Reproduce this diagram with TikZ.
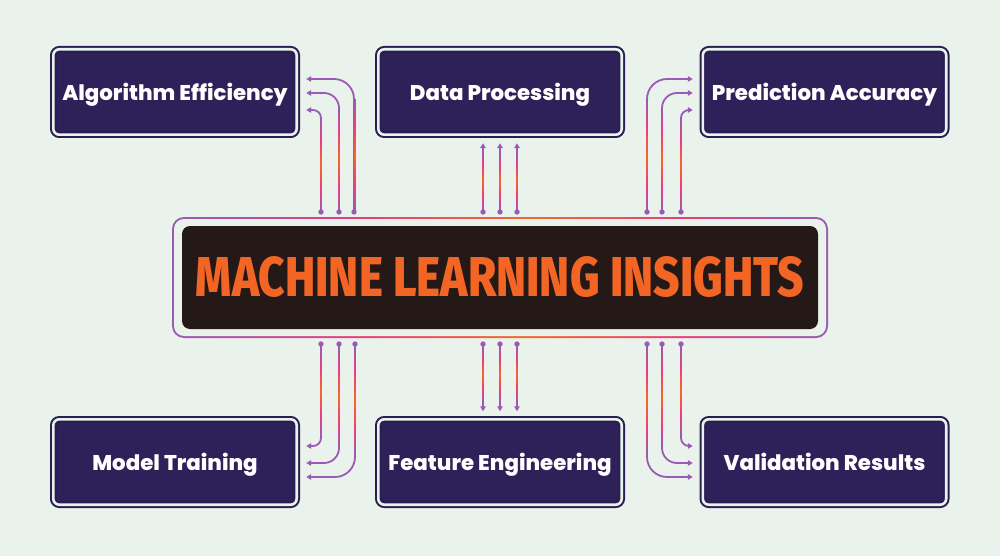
\documentclass[tikz,border=0pt]{standalone}
\usepackage{fontspec}
\setmainfont{Poppins}[BoldFont={Poppins ExtraBold}]
\newfontfamily\titlefont{Fira Sans ExtraBold}
\usetikzlibrary{arrows.meta,calc}
\definecolor{bg}{HTML}{EAF3EB}
\definecolor{boxfill}{HTML}{2E2159}
\definecolor{boxline}{HTML}{2A1D52}
\definecolor{core}{HTML}{241917}
\definecolor{titleor}{HTML}{F26524}
\definecolor{wpur}{HTML}{9B5AB5}
\definecolor{wpink}{HTML}{EE3D7D}
\definecolor{worg}{HTML}{F26A2A}
\pgfdeclareverticalshading{wire}{100bp}{color(0bp)=(wpur); color(25bp)=(wpur); color(38bp)=(wpink); color(50bp)=(worg); color(62bp)=(wpink); color(75bp)=(wpur); color(100bp)=(wpur)}
\pgfdeclarehorizontalshading{ringshade}{100bp}{color(0bp)=(wpur); color(25bp)=(wpur); color(40bp)=(wpink); color(52bp)=(worg); color(64bp)=(wpink); color(75bp)=(wpur); color(100bp)=(wpur)}
\newcommand\glow[3]{\shade[shading=wire] (#1-0.9,#2) rectangle (#1+0.9,#3);}
\begin{document}
\begin{tikzpicture}[x=1pt,y=-1pt,
  box/.style={draw=boxline, fill=boxfill, line width=2pt, double=bg, double distance=2.6pt,
    rounded corners=6pt, minimum width=243.4pt, minimum height=85.4pt, inner sep=0pt, outer sep=0pt,
    text height=21pt, text depth=4pt,
    text=white, font=\fontsize{21.3}{24}\selectfont\bfseries},
  wire/.style={draw=wpur, line width=1.8pt},
  tip/.style={-{Triangle[length=5pt,width=5.5pt]}},
  dot/.style={fill=wpur}]
\fill[bg] (0,0) rectangle (1000,556);
\useasboundingbox (0,0) rectangle (1000,556);

% boxes
\node[box] (ae) at (175,92) {Algorithm Efficiency};
\node[box] (dp) at (500,92) {Data Processing};
\node[box] (pa) at (824.5,92) {Prediction Accuracy};
\node[box] (mt) at (175,462) {Model Training};
\node[box] (fe) at (500,462) {Feature Engineering};
\node[box] (vr) at (824.5,462) {Validation Results};

% central
\node[shade, shading=ringshade, rounded corners=12pt, minimum width=656pt, minimum height=121pt, inner sep=0pt, outer sep=0pt] (ring) at (500,277.5) {};
\node[fill=bg, rounded corners=10pt, minimum width=652pt, minimum height=117pt, inner sep=0pt] (ringin) at (ring) {};
\node[fill=core, rounded corners=8pt, minimum width=636pt, minimum height=103pt, inner sep=0pt, text=titleor] (ml) at (ring) {\resizebox{608pt}{40pt}{\titlefont MACHINE LEARNING INSIGHTS}};

% dot coordinates
\coordinate (t1) at ($(ring.north west)+(149,-5)$);
\coordinate (t2) at ($(ring.north west)+(167,-5)$);
\coordinate (t3) at ($(ring.north west)+(182,-5)$);
\coordinate (t4) at ($(ring.north)+(-17,-5)$);
\coordinate (t5) at ($(ring.north)+(0,-5)$);
\coordinate (t6) at ($(ring.north)+(17,-5)$);
\coordinate (t7) at ($(ring.north east)+(-181,-5)$);
\coordinate (t8) at ($(ring.north east)+(-166,-5)$);
\coordinate (t9) at ($(ring.north east)+(-147,-5)$);
\coordinate (b1) at ($(ring.south west)+(149,6)$);
\coordinate (b2) at ($(ring.south west)+(167,6)$);
\coordinate (b3) at ($(ring.south west)+(183,6)$);
\coordinate (b4) at ($(ring.south)+(-17,6)$);
\coordinate (b5) at ($(ring.south)+(0,6)$);
\coordinate (b6) at ($(ring.south)+(17,6)$);
\coordinate (b7) at ($(ring.south east)+(-181,6)$);
\coordinate (b8) at ($(ring.south east)+(-166,6)$);
\coordinate (b9) at ($(ring.south east)+(-147,6)$);

% connectors top-left
\draw[wire, tip, rounded corners=20pt] (t3) |- ($(ae.east)+(9.5,-13)$);
\draw[wire, tip, rounded corners=15pt] (t2) |- ($(ae.east)+(9.5,1)$);
\draw[wire, tip, rounded corners=8pt] (t1) |- ($(ae.east)+(9.5,18)$);
% top-middle
\draw[wire, tip] (t4) -- (t4 |- {$(dp.south)+(0,8.5)$});
\draw[wire, tip] (t5) -- ($(dp.south)+(0,8.5)$);
\draw[wire, tip] (t6) -- (t6 |- {$(dp.south)+(0,8.5)$});
% top-right
\draw[wire, tip, rounded corners=20pt] (t7) |- ($(pa.west)+(-10,-13)$);
\draw[wire, tip, rounded corners=15pt] (t8) |- ($(pa.west)+(-10,1)$);
\draw[wire, tip, rounded corners=8pt] (t9) |- ($(pa.west)+(-10,18)$);
% bottom-left
\draw[wire, tip, rounded corners=8pt] (b1) |- ($(mt.east)+(9.5,-16)$);
\draw[wire, tip, rounded corners=15pt] (b2) |- ($(mt.east)+(9.5,1)$);
\draw[wire, tip, rounded corners=20pt] (b3) |- ($(mt.east)+(9.5,15)$);
% bottom-middle
\draw[wire, tip] (b4) -- (b4 |- {$(fe.north)+(0,-8)$});
\draw[wire, tip] (b5) -- ($(fe.north)+(0,-8)$);
\draw[wire, tip] (b6) -- (b6 |- {$(fe.north)+(0,-8)$});
% bottom-right
\draw[wire, tip, rounded corners=20pt] (b7) |- ($(vr.west)+(-10,15)$);
\draw[wire, tip, rounded corners=15pt] (b8) |- ($(vr.west)+(-10,1)$);
\draw[wire, tip, rounded corners=8pt] (b9) |- ($(vr.west)+(-10,-16)$);

% gradient glow on straight parts
\glow{355}{100}{211}\glow{339}{108}{211}\glow{321}{118}{211}
\glow{647}{100}{211}\glow{662}{108}{211}\glow{681}{118}{211}
\glow{483}{150}{211}\glow{500}{150}{211}\glow{517}{150}{211}
\glow{483}{345}{404}\glow{500}{345}{404}\glow{517}{345}{404}
\glow{321}{345}{438}\glow{339}{345}{448}\glow{355}{345}{457}
\glow{681}{345}{438}\glow{662}{345}{448}\glow{647}{345}{457}

% dots
\foreach \p in {t1,t2,t3,t4,t5,t6,t7,t8,t9,b1,b2,b3,b4,b5,b6,b7,b8,b9}
  \fill[dot] (\p) circle (2.7pt);
\end{tikzpicture}
\end{document}
